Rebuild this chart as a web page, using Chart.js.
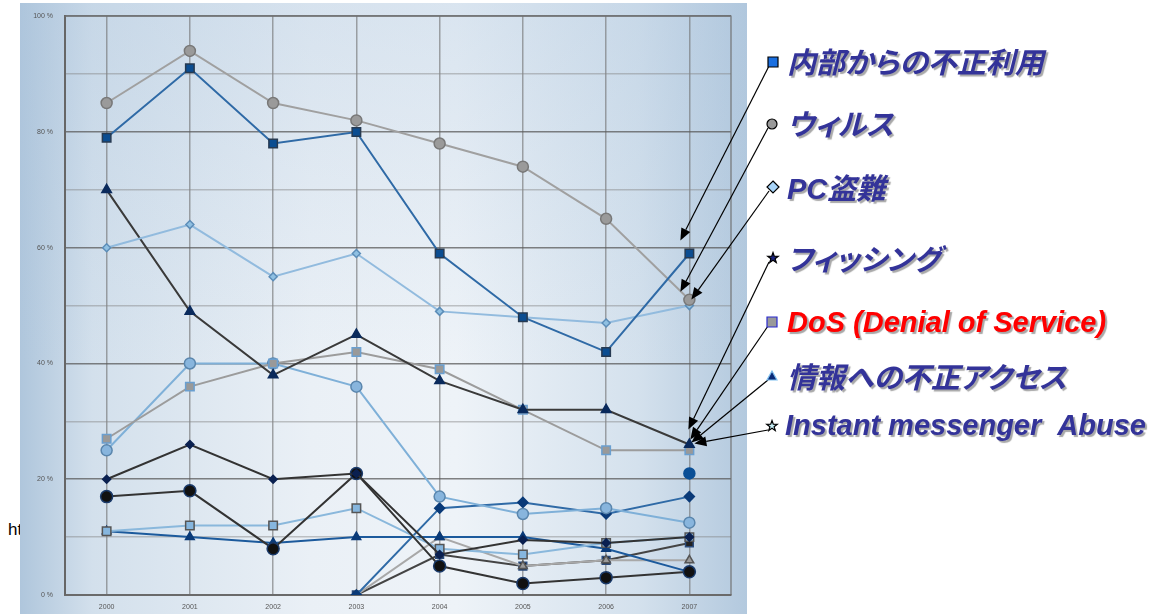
<!DOCTYPE html>
<html>
<head>
<meta charset="utf-8">
<script src="https://cdn.jsdelivr.net/npm/chart.js@4.4.1/dist/chart.umd.min.js"></script>
<style>
  html, body { margin: 0; padding: 0; background: #fff; }
  #page { position: relative; width: 1158px; height: 614px; overflow: hidden; }
  #ht { position: absolute; left: 8px; top: 520px; font: 17px "Liberation Sans", Arial, sans-serif; color: #000; }
  #panel {
    position: absolute; left: 20px; top: 3px; width: 727px; height: 611px;
    background:
      linear-gradient(to bottom, rgba(170,195,220,0.3) 0%, rgba(255,255,255,0) 60%),
      linear-gradient(to right, #afc6dc 0%, #d3e0ec 10%, #eaf0f6 40%, #eef3f8 60%, #d4e1ed 85%, #b3c9de 100%);
  }
  #wrap { position: absolute; left: 0; top: 0; width: 1158px; height: 614px; }
  .lg {
    position: absolute; left: 787px; line-height: 1; white-space: nowrap;
    font-family: "Liberation Sans", Arial, "Noto Sans CJK JP", sans-serif;
    font-weight: bold; font-style: italic; font-size: 29px; color: #333399;
    text-shadow: 2px 2px 1px #a8a8a8; font-feature-settings: "palt";
  }
  .red { color: #ff0000; }
</style>
</head>
<body>
<div id="page">
  <div id="ht">ht</div>
  <div id="panel"></div>
  <div id="wrap"><canvas id="chart"></canvas></div>
  <div class="lg" style="top:49px">内部からの不正利用</div>
  <div class="lg" style="top:111px">ウィルス</div>
  <div class="lg" style="top:175px">PC盗難</div>
  <div class="lg" style="top:246px">フィッシング</div>
  <div class="lg red" style="top:308px">DoS (Denial of Service)</div>
  <div class="lg" style="top:364px">情報への不正アクセス</div>
  <div class="lg" style="top:411px; left:785px">Instant&nbsp;messenger&nbsp;&nbsp;Abuse</div>
</div>
<script>
const years = ['2000', '2001', '2002', '2003', '2004', '2005', '2006', '2007'];
const insiderAbuse = [79, 91, 78, 80, 59, 48, 42, 59];
const virus = [85, 94, 85, 82, 78, 74, 65, 51];
const laptopTheft = [60, 64, 55, 59, 49, 48, 47, 50];
const unauthorizedAccess = [70, 49, 38, 45, 37, 32, 32, 26];
const denialOfService = [27, 36, 40, 42, 39, 32, 25, 25];
const systemPenetration = [25, 40, 40, 36, 17, 14, 15, 12.5];
const sabotage = [20, 26, 20, 21, 7, 9.5, 9, 10];
const financialFraud = [17, 18, 8, 21, 5, 2, 3, 4];
const telecomFraud = [11, 12, 12, 15, 8, 7, 9, 10];
const netAbuse = [11, 10, 9, 10, 10, 10, 8, 4];
const phishing = [null, null, null, 0, 15, 16, 14, 17];
const imAbuse = [null, null, null, 0, 10, 5, 6, 6];
const webMisuse = [null, null, null, 0, 7, 5, 6, 9];
const bots = [null, null, null, null, null, null, null, 21];

function series(label, data, line, fill, border, style, radius) {
  return {
    label: label, data: data,
    borderColor: line, borderWidth: 2, tension: 0, fill: false,
    pointStyle: style, pointRadius: radius,
    pointBackgroundColor: fill, pointBorderColor: border, pointBorderWidth: 1.5
  };
}

const datasets = [
  series('内部からの不正利用', insiderAbuse, '#2f6aa6', '#0b4d91', '#263a52', 'rect', 6),
  series('ウィルス', virus, '#a0a0a0', '#9a9a9a', '#787878', 'circle', 5.5),
  series('PC盗難', laptopTheft, '#92bbde', '#8fc0e2', '#5c8db8', 'rectRot', 4),
  series('情報への不正アクセス', unauthorizedAccess, '#3a3a3a', '#0a2a5c', '#0a2a5c', 'triangle', 5.5),
  series('DoS (Denial of Service)', denialOfService, '#9c9c9c', '#999999', '#6a9fd0', 'rect', 6),
  series('システムへの侵入', systemPenetration, '#7fb0d8', '#88b5dd', '#5a86ad', 'circle', 5.5),
  series('妨害行為', sabotage, '#333333', '#0a2050', '#0a2050', 'rectRot', 4),
  series('金融詐欺', financialFraud, '#333333', '#111111', '#1a3a6a', 'circle', 6),
  series('通信詐欺', telecomFraud, '#8ab8dc', '#86b6de', '#555555', 'rect', 6),
  series('ネットワークの悪用', netAbuse, '#1c5a9c', '#0a3a78', '#0a3a78', 'triangle', 5),
  series('フィッシング', phishing, '#2f6aa6', '#0a3a78', '#0a3a78', 'rectRot', 5),
  series('Instant messenger Abuse', imAbuse, '#a8a8a8', '#9a9a9a', '#555555', 'triangle', 5),
  series('Webアプリの悪用', webMisuse, '#444444', '#222222', '#2a4a7a', 'rect', 5.5),
  series('ボット', bots, '#0a4f96', '#0a4f96', '#0a4f96', 'circle', 5.5)
];

// legend marker position, marker kind, series the arrow points at, tip offset
const legendArrows = [
  { x: 773, y: 62, kind: 'square', fill: '#1a6fe0', line: '#000', data: insiderAbuse, dx: -9, dy: -13 },
  { x: 772, y: 124, kind: 'circle', fill: '#999999', line: '#000', data: virus, dx: -9, dy: -8 },
  { x: 773, y: 187, kind: 'diamond', fill: '#a8d4f8', line: '#000', data: laptopTheft, dx: 2, dy: -6 },
  { x: 773, y: 258, kind: 'star', fill: '#1a237e', line: '#000', data: unauthorizedAccess, dx: -1, dy: -15 },
  { x: 772, y: 322, kind: 'square', fill: '#999999', line: '#2b2bd0', data: unauthorizedAccess, dx: 1, dy: -5 },
  { x: 772, y: 376, kind: 'triangle', fill: '#0a2a78', line: '#7fc0f0', data: unauthorizedAccess, dx: 2, dy: -2 },
  { x: 772, y: 426, kind: 'star', fill: '#c8f0f8', line: '#000', data: unauthorizedAccess, dx: 5, dy: -1 }
];

function drawMarker(c, m) {
  c.save();
  c.fillStyle = m.fill; c.strokeStyle = m.line; c.lineWidth = 1.2;
  c.beginPath();
  if (m.kind === 'square') {
    c.rect(m.x - 5, m.y - 5, 10, 10);
  } else if (m.kind === 'circle') {
    c.arc(m.x, m.y, 5, 0, Math.PI * 2);
  } else if (m.kind === 'diamond') {
    c.moveTo(m.x, m.y - 6); c.lineTo(m.x + 6, m.y); c.lineTo(m.x, m.y + 6); c.lineTo(m.x - 6, m.y); c.closePath();
  } else if (m.kind === 'triangle') {
    c.moveTo(m.x, m.y - 5); c.lineTo(m.x + 5, m.y + 4); c.lineTo(m.x - 5, m.y + 4); c.closePath();
  } else {
    for (let i = 0; i < 10; i++) {
      const r = i % 2 ? 2.2 : 5.5;
      const a = -Math.PI / 2 + i * Math.PI / 5;
      const px = m.x + r * Math.cos(a), py = m.y + r * Math.sin(a);
      if (i) c.lineTo(px, py); else c.moveTo(px, py);
    }
    c.closePath();
  }
  c.fill(); c.stroke();
  c.restore();
}

function drawArrow(c, x1, y1, x2, y2) {
  const ang = Math.atan2(y2 - y1, x2 - x1);
  const len = 12, half = 5;
  c.save();
  c.strokeStyle = '#000'; c.fillStyle = '#000'; c.lineWidth = 1.2;
  c.beginPath();
  c.moveTo(x1, y1);
  c.lineTo(x2 - len * Math.cos(ang), y2 - len * Math.sin(ang));
  c.stroke();
  c.beginPath();
  c.moveTo(x2, y2);
  c.lineTo(x2 - len * Math.cos(ang) + half * Math.sin(ang), y2 - len * Math.sin(ang) - half * Math.cos(ang));
  c.lineTo(x2 - len * Math.cos(ang) - half * Math.sin(ang), y2 - len * Math.sin(ang) + half * Math.cos(ang));
  c.closePath();
  c.fill();
  c.restore();
}

const framePlugin = {
  id: 'frame',
  beforeDatasetsDraw(chart) {
    const a = chart.chartArea, c = chart.ctx;
    c.save();
    c.strokeStyle = 'rgba(110,110,110,0.7)'; c.lineWidth = 1.6;
    c.beginPath();
    c.moveTo(a.left, a.top); c.lineTo(a.right, a.top); c.lineTo(a.right, a.bottom);
    c.stroke();
    c.restore();
  },
  afterDraw(chart) {
    const c = chart.ctx, xs = chart.scales.x, ys = chart.scales.y;
    const last = years.length - 1;
    legendArrows.forEach(m => {
      const tx = xs.getPixelForValue(last) + m.dx;
      const ty = ys.getPixelForValue(m.data[last]) + m.dy;
      drawArrow(c, m.x - 4, m.y + 4, tx, ty);
      drawMarker(c, m);
    });
  }
};

new Chart(document.getElementById('chart'), {
  type: 'line',
  data: { labels: years, datasets: datasets },
  options: {
    responsive: true,
    maintainAspectRatio: false,
    animation: false,
    layout: { padding: { left: 20, top: 12, right: 427, bottom: 0 } },
    plugins: { legend: { display: false }, tooltip: { enabled: false } },
    scales: {
      x: {
        offset: true,
        grid: { offset: false, drawTicks: false, color: 'rgba(110,110,110,0.6)', lineWidth: 1.5 },
        border: { color: '#6a6a6a', width: 2 },
        ticks: { font: { size: 7, family: 'Liberation Sans' }, color: '#555', padding: 8 },
        afterFit: s => { s.height = 19; }
      },
      y: {
        min: 0, max: 100,
        grid: {
          drawTicks: false, lineWidth: 1.6,
          color: ctx => ctx.tick && ctx.tick.value % 20 === 0 ? 'rgba(90,90,90,0.75)' : 'rgba(130,130,130,0.45)'
        },
        border: { color: '#666', width: 2 },
        ticks: {
          stepSize: 10, padding: 12,
          font: { size: 7, family: 'Liberation Sans' }, color: '#555',
          callback: v => v % 20 === 0 ? v + ' %' : ''
        },
        afterFit: s => { s.width = 45; }
      }
    }
  },
  plugins: [framePlugin]
});
</script>
</body>
</html>
